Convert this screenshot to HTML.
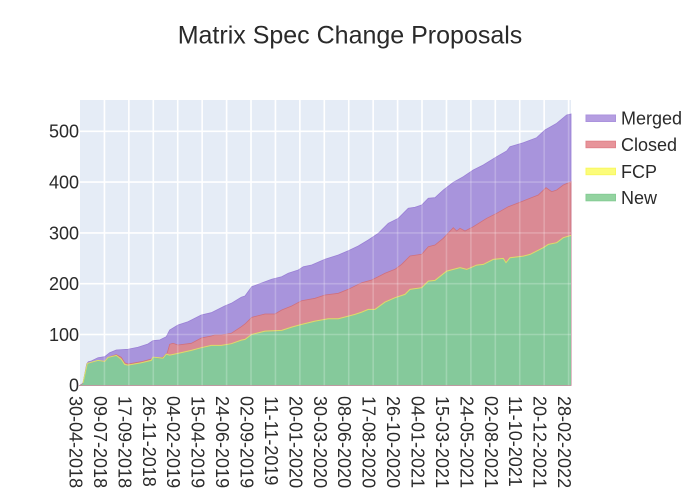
<!DOCTYPE html>
<html><head><meta charset="utf-8"><style>
html,body{margin:0;padding:0;background:#fff;}
svg{display:block;font-family:"Liberation Sans",Arial,sans-serif;}
</style></head><body>
<svg width="700" height="500" viewBox="0 0 700 500" xmlns="http://www.w3.org/2000/svg">
<rect x="0" y="0" width="700" height="500" fill="#fff"/>
<rect x="80" y="100" width="491" height="285.3" fill="#e5ecf6"/>
<g id="grid" stroke="#fff" stroke-width="1.6">
<line x1="104.43" y1="100" x2="104.43" y2="385.3"/>
<line x1="128.86" y1="100" x2="128.86" y2="385.3"/>
<line x1="153.29" y1="100" x2="153.29" y2="385.3"/>
<line x1="177.72" y1="100" x2="177.72" y2="385.3"/>
<line x1="202.15" y1="100" x2="202.15" y2="385.3"/>
<line x1="226.58" y1="100" x2="226.58" y2="385.3"/>
<line x1="251.01" y1="100" x2="251.01" y2="385.3"/>
<line x1="275.44" y1="100" x2="275.44" y2="385.3"/>
<line x1="299.87" y1="100" x2="299.87" y2="385.3"/>
<line x1="324.30" y1="100" x2="324.30" y2="385.3"/>
<line x1="348.73" y1="100" x2="348.73" y2="385.3"/>
<line x1="373.16" y1="100" x2="373.16" y2="385.3"/>
<line x1="397.59" y1="100" x2="397.59" y2="385.3"/>
<line x1="422.02" y1="100" x2="422.02" y2="385.3"/>
<line x1="446.45" y1="100" x2="446.45" y2="385.3"/>
<line x1="470.88" y1="100" x2="470.88" y2="385.3"/>
<line x1="495.31" y1="100" x2="495.31" y2="385.3"/>
<line x1="519.74" y1="100" x2="519.74" y2="385.3"/>
<line x1="544.17" y1="100" x2="544.17" y2="385.3"/>
<line x1="568.60" y1="100" x2="568.60" y2="385.3"/>
<line x1="80" y1="334.5" x2="571" y2="334.5"/>
<line x1="80" y1="283.7" x2="571" y2="283.7"/>
<line x1="80" y1="232.9" x2="571" y2="232.9"/>
<line x1="80" y1="182.1" x2="571" y2="182.1"/>
<line x1="80" y1="131.3" x2="571" y2="131.3"/>
</g>
<polygon fill="#a894dc" stroke="#9a80d6" stroke-width="0.8" points="80,385.3 83,383.3 86.7,364 88.3,361.7 91.3,361 98,357.7 104.7,356.7 109.7,352.7 116.3,350 128,349.3 138,347.3 148,344 153,340.7 159.7,340 166.3,336.7 169.7,330 178,325 188,321.7 201.3,315 211.3,312.7 224.7,306 231.3,303.3 241.3,297.3 245,296 251.7,286.7 258.3,284.3 271.7,279.3 281.7,276.7 288.3,273.3 298.3,270 303.3,266.7 311.7,265 325,259.3 338.3,255 348.3,250.7 358.3,246 368.3,240 378.3,233.3 388.3,223.3 398.3,218.3 408.3,208.3 415,207.3 421.7,205 428.3,198.3 435,197.7 443.3,190 453.3,182.3 463.3,176.7 473.3,170 483.3,165 496.7,156.7 506.7,151 510,146.7 523.3,142.7 536.7,137.7 545,130 556.7,123.3 566.7,115 571,114 571,385.3"/>
<polygon fill="#da8a94" stroke="#d0707c" stroke-width="0.8" points="80,385.3 83,383.5 87.3,363.3 104.7,361.3 109.7,356.7 116.3,354.7 121.3,357.3 124.7,362.7 128,364 141.3,361.7 151.3,359 163,357.3 167.3,352.7 169.7,344.3 173,343.3 178,345 191.3,343.3 201.3,338 211.3,336 214.7,335 221.3,335 231.3,333.3 241.3,326.7 245,324 251.7,317.3 265,314 275,314 281.7,310 291.7,306 301.7,300.7 315,298.3 325,295 338.3,293.3 348.3,289.3 361.7,282.7 371.7,280 385,273.3 395,269.3 401.7,264.3 410,256 421.7,254.3 428.3,246.7 435,245 443.3,238.3 453.3,227.7 456.7,231 460,228.3 465,231 473.3,226.7 486.7,218.3 496.7,213.3 508.3,206.7 520,202.3 530,198.3 538.3,195 546,187.7 551.7,191.7 556.7,190 563.3,185 571,181.7 571,385.3"/>
<polygon fill="#85c99b" points="80,385.3 83,383.5 87.3,364 98,361 104.7,362 108,358 116.3,356 121.3,360 124.7,365 128,365.7 141.3,363.3 151.3,361 153,357.7 163,358.7 166.3,354.7 169.7,355.7 178,354 191.3,351 201.3,348.3 211.3,346 221.3,346 231.3,344.3 241.3,340.7 245,340 251.7,335 265,331.7 281.7,331 291.7,327.7 301.7,325 315,321.7 328.3,319.3 338.3,319.3 348.3,316.7 355,315 361.7,312.7 368.3,310 375,310 385,302.7 395,298.3 405,295 410,290 421.7,288.3 428.3,281.7 435,281 446.7,271.7 460,268.3 466.7,270 476.7,265.7 483.3,265 493.3,260 503.3,259 506,263.3 510,258.3 523.3,256.7 530,255 543.3,248.3 548.3,245 556.7,243.3 563.3,238.3 571,236 571,385.3"/>
<polyline fill="none" stroke="#d8e068" stroke-width="1" transform="translate(0,-0.6)" points="83,383.5 87.3,364 98,361 104.7,362 108,358 116.3,356 121.3,360 124.7,365 128,365.7 141.3,363.3 151.3,361 153,357.7 163,358.7 166.3,354.7 169.7,355.7 178,354 191.3,351 201.3,348.3 211.3,346 221.3,346 231.3,344.3 241.3,340.7 245,340 251.7,335 265,331.7 281.7,331 291.7,327.7 301.7,325 315,321.7 328.3,319.3 338.3,319.3 348.3,316.7 355,315 361.7,312.7 368.3,310 375,310 385,302.7 395,298.3 405,295 410,290 421.7,288.3 428.3,281.7 435,281 446.7,271.7 460,268.3 466.7,270 476.7,265.7 483.3,265 493.3,260 503.3,259 506,263.3 510,258.3 523.3,256.7 530,255 543.3,248.3 548.3,245 556.7,243.3 563.3,238.3 571,236"/>
<g stroke="#fff" stroke-width="1.6" stroke-opacity="0.22">
<line x1="104.43" y1="100" x2="104.43" y2="385.3"/>
<line x1="128.86" y1="100" x2="128.86" y2="385.3"/>
<line x1="153.29" y1="100" x2="153.29" y2="385.3"/>
<line x1="177.72" y1="100" x2="177.72" y2="385.3"/>
<line x1="202.15" y1="100" x2="202.15" y2="385.3"/>
<line x1="226.58" y1="100" x2="226.58" y2="385.3"/>
<line x1="251.01" y1="100" x2="251.01" y2="385.3"/>
<line x1="275.44" y1="100" x2="275.44" y2="385.3"/>
<line x1="299.87" y1="100" x2="299.87" y2="385.3"/>
<line x1="324.30" y1="100" x2="324.30" y2="385.3"/>
<line x1="348.73" y1="100" x2="348.73" y2="385.3"/>
<line x1="373.16" y1="100" x2="373.16" y2="385.3"/>
<line x1="397.59" y1="100" x2="397.59" y2="385.3"/>
<line x1="422.02" y1="100" x2="422.02" y2="385.3"/>
<line x1="446.45" y1="100" x2="446.45" y2="385.3"/>
<line x1="470.88" y1="100" x2="470.88" y2="385.3"/>
<line x1="495.31" y1="100" x2="495.31" y2="385.3"/>
<line x1="519.74" y1="100" x2="519.74" y2="385.3"/>
<line x1="544.17" y1="100" x2="544.17" y2="385.3"/>
<line x1="568.60" y1="100" x2="568.60" y2="385.3"/>
<line x1="80" y1="334.5" x2="571" y2="334.5"/>
<line x1="80" y1="283.7" x2="571" y2="283.7"/>
<line x1="80" y1="232.9" x2="571" y2="232.9"/>
<line x1="80" y1="182.1" x2="571" y2="182.1"/>
</g>
<text x="350" y="43.3" text-anchor="middle" font-size="25" fill="#2a2a2a">Matrix Spec Change Proposals</text>
<g font-size="18" fill="#2a2a2a" text-anchor="end">
<text x="79" y="391.7">0</text>
<text x="79" y="340.9">100</text>
<text x="79" y="290.1">200</text>
<text x="79" y="239.3">300</text>
<text x="79" y="188.5">400</text>
<text x="79" y="137.7">500</text>
</g>
<g font-size="18" fill="#2a2a2a">
<text transform="translate(69.5,396) rotate(90)">30-04-2018</text>
<text transform="translate(93.93,396) rotate(90)">09-07-2018</text>
<text transform="translate(118.36,396) rotate(90)">17-09-2018</text>
<text transform="translate(142.79,396) rotate(90)">26-11-2018</text>
<text transform="translate(167.22,396) rotate(90)">04-02-2019</text>
<text transform="translate(191.65,396) rotate(90)">15-04-2019</text>
<text transform="translate(216.08,396) rotate(90)">24-06-2019</text>
<text transform="translate(240.51,396) rotate(90)">02-09-2019</text>
<text transform="translate(264.94,396) rotate(90)">11-11-2019</text>
<text transform="translate(289.37,396) rotate(90)">20-01-2020</text>
<text transform="translate(313.80,396) rotate(90)">30-03-2020</text>
<text transform="translate(338.23,396) rotate(90)">08-06-2020</text>
<text transform="translate(362.66,396) rotate(90)">17-08-2020</text>
<text transform="translate(387.09,396) rotate(90)">26-10-2020</text>
<text transform="translate(411.52,396) rotate(90)">04-01-2021</text>
<text transform="translate(435.95,396) rotate(90)">15-03-2021</text>
<text transform="translate(460.38,396) rotate(90)">24-05-2021</text>
<text transform="translate(484.81,396) rotate(90)">02-08-2021</text>
<text transform="translate(509.24,396) rotate(90)">11-10-2021</text>
<text transform="translate(533.67,396) rotate(90)">20-12-2021</text>
<text transform="translate(558.10,396) rotate(90)">28-02-2022</text>
</g>
<rect x="586" y="115" width="29.5" height="6.5" fill="#b59ee1" stroke="#ab93dd" stroke-width="1"/>
<rect x="586" y="141.2" width="29.5" height="6.5" fill="#e7949a" stroke="#e0838b" stroke-width="1"/>
<rect x="586" y="168.2" width="29.5" height="6.5" fill="#fcfc7a" stroke="#f8f860" stroke-width="1"/>
<rect x="586" y="194.3" width="29.5" height="6.5" fill="#93d3a0" stroke="#86cc95" stroke-width="1"/>
<g font-size="18" fill="#2a2a2a">
<text x="621" y="124.6">Merged</text>
<text x="621" y="150.8">Closed</text>
<text x="621" y="177.8">FCP</text>
<text x="621" y="203.9">New</text>
</g>
</svg>
</body></html>
